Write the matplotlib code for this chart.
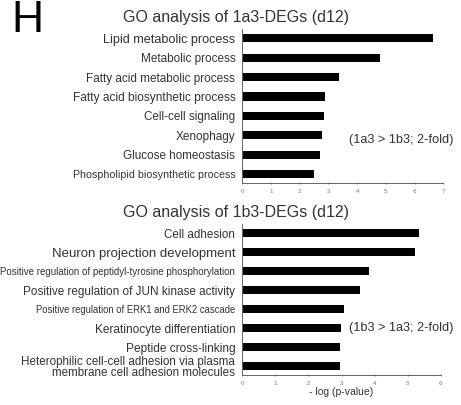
import matplotlib
matplotlib.use("Agg")
import matplotlib.pyplot as plt

plt.rcParams['font.family'] = ['Liberation Sans', 'DejaVu Sans']

top_terms = ["Lipid metabolic process", "Metabolic process", "Fatty acid metabolic process",
             "Fatty acid biosynthetic process", "Cell-cell signaling", "Xenophagy",
             "Glucose homeostasis", "Phospholipid biosynthetic process"]
top_values = [6.65, 4.8, 3.38, 2.89, 2.85, 2.77, 2.72, 2.5]
top_ticks = [0, 1, 2, 3, 4, 5, 6, 7]

bot_terms = ["Cell adhesion", "Neuron projection development",
             "Positive regulation of peptidyl-tyrosine phosphorylation",
             "Positive regulation of JUN kinase activity",
             "Positive regulation of ERK1 and ERK2 cascade",
             "Keratinocyte differentiation", "Peptide cross-linking",
             "Heterophilic cell-cell adhesion via plasma\nmembrane cell adhesion molecules"]
bot_values = [5.35, 5.21, 3.83, 3.55, 3.07, 2.99, 2.96, 2.96]
bot_ticks = [0, 1, 2, 3, 4, 5, 6]

top_label_sizes = [9.1, 8.5, 8.5, 8.6, 8.4, 8.5, 8.4, 7.7]
bot_label_sizes = [8.4, 9.5, 7.0, 8.5, 6.85, 8.6, 8.6, 8.4]

W, H = 461, 405
fig = plt.figure(figsize=(W / 100, H / 100), dpi=100)
txt = '#333333'

def make_ax(left, top, right, bottom, terms, values, ticks, sizes, title, note, note_xy, xlabel=None):
    ax = fig.add_axes([left / W, 1 - bottom / H, (right - left) / W, (bottom - top) / H])
    y = list(range(len(terms)))
    ax.barh(y, values, height=0.42, color='black')
    ax.set_ylim(len(terms) - 0.55, -0.5)
    ax.set_xlim(ticks[0], ticks[-1])
    ax.set_xticks(ticks)
    ax.set_xticklabels([str(t) for t in ticks], fontsize=4.5, color='#666666')
    ax.set_yticks(y)
    ax.set_yticklabels(terms, color=txt, linespacing=0.85)
    for lab, s in zip(ax.get_yticklabels(), sizes):
        lab.set_fontsize(s)
    ax.tick_params(axis='y', length=0, pad=5)
    ax.tick_params(axis='x', length=2, width=0.6, direction='inout', pad=3, colors='#777777')
    for sp in ['top', 'right']:
        ax.spines[sp].set_visible(False)
    for sp in ['left', 'bottom']:
        ax.spines[sp].set_linewidth(0.7)
        ax.spines[sp].set_color('#666666')
    ax.set_title(title, fontsize=11.5, color=txt, pad=5, loc='center', x=-0.03)
    ax.text(note_xy[0], note_xy[1], note, transform=ax.transAxes, fontsize=9.2, color=txt,
            ha='center', va='center')
    if xlabel:
        ax.set_xlabel(xlabel, fontsize=7.5, color=txt, labelpad=1)
    return ax

make_ax(242.3, 28.6, 443.3, 183, top_terms, top_values, top_ticks, top_label_sizes,
        "GO analysis of 1a3-DEGs (d12)", "(1a3 > 1b3; 2-fold)", (0.79, 0.28))
make_ax(242.3, 223.8, 440.7, 375, bot_terms, bot_values, bot_ticks, bot_label_sizes,
        "GO analysis of 1b3-DEGs (d12)", "(1b3 > 1a3; 2-fold)", (0.80, 0.31),
        xlabel="- log (p-value)")

fig.text(11 / W, 1 - 21 / H, "H", fontsize=32, color='black', va='center', ha='left')

fig.savefig("out.png", dpi=100)
